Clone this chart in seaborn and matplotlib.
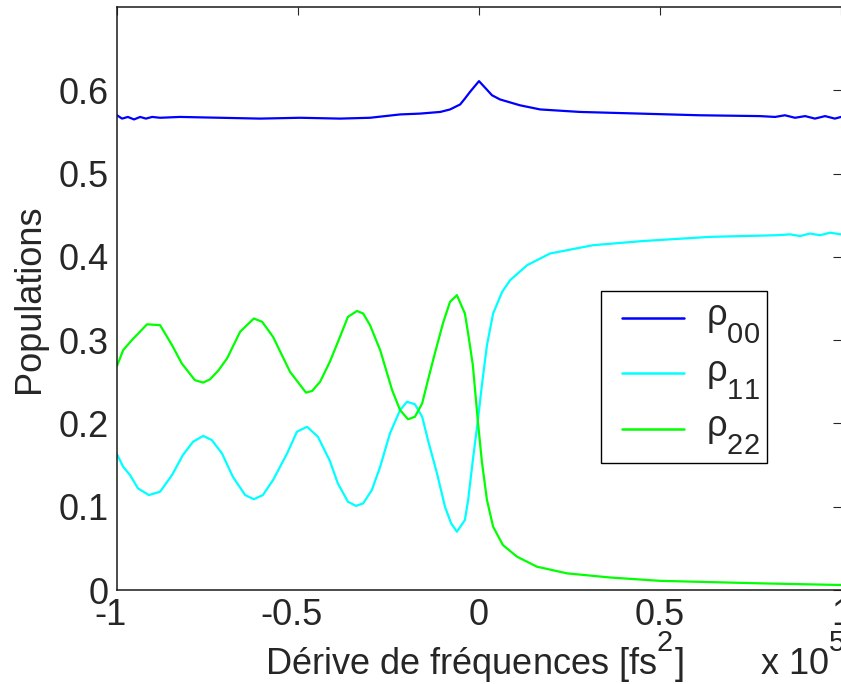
import numpy as np
import pandas as pd
import matplotlib
matplotlib.use("Agg")
import matplotlib.pyplot as plt
import matplotlib._mathtext as _mathtext
from matplotlib.legend_handler import HandlerLine2D
from matplotlib.transforms import ScaledTranslation
import seaborn as sns

# Chirp (units of 1e5 fs^2) and level populations
x_rho00 = [-1.000, -0.986, -0.970, -0.953, -0.936, -0.920, -0.903, -0.881, -0.826,
           -0.715, -0.605, -0.494, -0.384, -0.301, -0.218, -0.163, -0.107, -0.080,
           -0.052, -0.039, -0.025, 0.000, 0.017, 0.036, 0.058, 0.113, 0.169, 0.279,
           0.445, 0.610, 0.776, 0.818, 0.845, 0.873, 0.901, 0.928, 0.956, 0.983,
           1.000]
rho00 = [0.570, 0.566, 0.568, 0.565, 0.568, 0.566, 0.568, 0.567, 0.568,
         0.567, 0.566, 0.567, 0.566, 0.567, 0.571, 0.572, 0.574, 0.577,
         0.583, 0.590, 0.598, 0.611, 0.603, 0.594, 0.589, 0.582, 0.577, 0.574,
         0.572, 0.570, 0.569, 0.568, 0.570, 0.567, 0.569, 0.566, 0.569, 0.566,
         0.568]

x_rho11 = [-1.000, -0.983, -0.964, -0.942, -0.912, -0.881, -0.848, -0.818, -0.790,
           -0.762, -0.738, -0.710, -0.680, -0.646, -0.622, -0.597, -0.569, -0.530,
           -0.503, -0.475, -0.445, -0.412, -0.390, -0.362, -0.340, -0.320, -0.296,
           -0.273, -0.246, -0.218, -0.199, -0.177, -0.157, -0.141, -0.116, -0.094,
           -0.077, -0.061, -0.039, -0.030, -0.017, -0.003, 0.008, 0.022, 0.039,
           0.064, 0.086, 0.133, 0.196, 0.315, 0.453, 0.638, 0.823, 0.859, 0.887,
           0.914, 0.942, 0.970, 1.000]
rho11 = [0.163, 0.148, 0.138, 0.122, 0.114, 0.118, 0.138, 0.162, 0.178,
         0.185, 0.180, 0.164, 0.136, 0.114, 0.109, 0.114, 0.132, 0.164,
         0.190, 0.196, 0.184, 0.155, 0.128, 0.106, 0.101, 0.104, 0.120,
         0.148, 0.188, 0.216, 0.226, 0.223, 0.208, 0.180, 0.140, 0.100,
         0.080, 0.070, 0.084, 0.108, 0.156, 0.204, 0.246, 0.294, 0.332,
         0.358, 0.372, 0.390, 0.404, 0.414, 0.419, 0.424, 0.426, 0.427, 0.425,
         0.428, 0.426, 0.429, 0.427]

x_rho22 = [-1.000, -0.983, -0.959, -0.917, -0.881, -0.848, -0.821, -0.785, -0.762,
           -0.743, -0.721, -0.696, -0.660, -0.622, -0.599, -0.569, -0.522, -0.478,
           -0.461, -0.439, -0.412, -0.384, -0.362, -0.337, -0.320, -0.301, -0.273,
           -0.240, -0.218, -0.196, -0.177, -0.157, -0.141, -0.122, -0.099, -0.080,
           -0.061, -0.039, -0.030, -0.017, -0.003, 0.008, 0.022, 0.039, 0.066,
           0.105, 0.160, 0.243, 0.362, 0.500, 0.776, 1.000]
rho22 = [0.269, 0.288, 0.300, 0.319, 0.318, 0.294, 0.272, 0.252, 0.249,
         0.253, 0.263, 0.278, 0.310, 0.326, 0.322, 0.304, 0.262, 0.237,
         0.239, 0.250, 0.274, 0.304, 0.328, 0.335, 0.332, 0.318, 0.288,
         0.240, 0.216, 0.205, 0.208, 0.224, 0.252, 0.284, 0.321, 0.346,
         0.354, 0.332, 0.308, 0.270, 0.202, 0.154, 0.108, 0.076, 0.054,
         0.040, 0.028, 0.020, 0.015, 0.011, 0.008, 0.006]

labels = ["ρ$_{00}$", "ρ$_{11}$", "ρ$_{22}$"]
colors = ["#0000ff", "#00ffff", "#00ff00"]
x_ticks = [-1, -0.5, 0, 0.5, 1]
x_tick_labels = ["-1", "-0.5", "0", "0.5", "1"]
y_ticks = [0, 0.1, 0.2, 0.3, 0.4, 0.5, 0.6]
y_tick_labels = ["0", "0.1", "0.2", "0.3", "0.4", "0.5", "0.6"]

frames = []
for lab, xs, ys in zip(labels, [x_rho00, x_rho11, x_rho22], [rho00, rho11, rho22]):
    frames.append(pd.DataFrame({"chirp": xs, "population": ys, "level": lab}))
df = pd.concat(frames, ignore_index=True)

sns.set_style("white")
plt.rcParams["font.family"] = ["Liberation Sans", "DejaVu Sans"]
plt.rcParams["mathtext.fontset"] = "custom"
plt.rcParams["mathtext.rm"] = "Liberation Sans"
plt.rcParams["mathtext.it"] = "Liberation Sans"
plt.rcParams["mathtext.default"] = "regular"

# larger, more strongly offset sub/superscripts
_mathtext.SHRINK_FACTOR = 0.8
_mathtext.FontConstantsBase.sub1 = 0.9
_mathtext.FontConstantsBase.sup1 = 1.15

fs = 26
fig = plt.figure(figsize=(8.41, 6.84), dpi=100)
ax = fig.add_axes([117 / 841, 1 - 590 / 684, 724 / 841, 583 / 684])

sns.lineplot(data=df, x="chirp", y="population", hue="level",
             palette=dict(zip(labels, colors)), estimator=None, sort=False,
             linewidth=1.6, ax=ax, legend=False)

ax.set_xlim(-1, 1)
ax.set_ylim(0, 0.7)
ax.set_xticks(x_ticks)
ax.set_xticklabels(x_tick_labels)
ax.set_yticks(y_ticks)
ax.set_yticklabels(y_tick_labels)
ax.tick_params(direction="in", length=6, width=0.8, color="#262626",
               labelsize=fs, top=True, right=True, pad=6)
ax.tick_params(axis="x", pad=6)
for side in ["left", "bottom", "top"]:
    ax.spines[side].set_color("#1a1a1a")
    ax.spines[side].set_linewidth(1.1)
ax.spines["right"].set_visible(False)

# hang the minus sign of negative tick labels
for lbl in ax.get_xticklabels():
    if lbl.get_text().startswith("-"):
        lbl.set_transform(lbl.get_transform() +
                          ScaledTranslation(-7 / 100, 0, fig.dpi_scale_trans))

ax.set_xlabel("Dérive de fréquences [fs$^{2}$]", fontsize=fs, va="baseline")
ax.xaxis.set_label_coords((474 - 117) / 724, (590 - 675) / 583)
ax.set_ylabel("Populations", fontsize=fs, labelpad=8)
fig.text(760 / 841, 1 - 675 / 684, "x 10$^{5}$", fontsize=fs,
         ha="left", va="baseline")


def _legend_line(legline, orig):
    # copy the style and sit the sample line a little lower
    legline.update_from(orig)
    legline.set_ydata(np.asarray(legline.get_ydata(), dtype=float) - 3.6)


handles = [plt.Line2D([], [], color=c, linewidth=1.8) for c in colors]
leg_labels = [lab + r"$\ \ $" for lab in labels]
leg = ax.legend(handles, leg_labels, loc="upper left",
                bbox_to_anchor=((601 - 117) / 724, (590 - 291) / 583),
                borderaxespad=0, fontsize=fs, frameon=True, fancybox=False,
                framealpha=1, edgecolor="black", handlelength=2.1,
                handletextpad=0.61, labelspacing=0.235, borderpad=0.2,
                handler_map={plt.Line2D: HandlerLine2D(xpad=0.38,
                                                       update_func=_legend_line)})
leg.get_frame().set_linewidth(1.0)

fig.savefig("out.png", dpi=100)
